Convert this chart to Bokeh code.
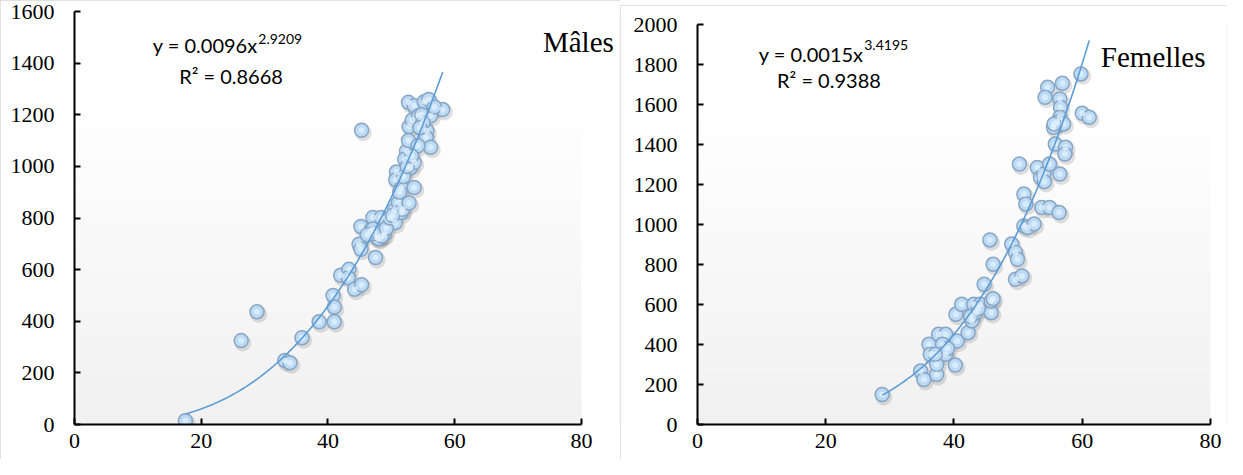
import numpy as np
from bokeh.plotting import figure
from bokeh.layouts import row, column
from bokeh.models import Label, BoxAnnotation, Spacer, FixedTicker
from bokeh.transform import dodge
from bokeh.embed import file_html
from bokeh.resources import INLINE

# ---- data (length, weight) ----
male_length = [17.5, 26.3, 28.8, 33.2, 34.0, 35.9, 38.6, 40.8, 41.0, 41.0, 42.0, 43.3,
               43.2, 44.2, 45.3, 45.3, 45.2, 44.9, 45.2, 46.7, 47.1, 47.5, 47.8, 48.4,
               48.9, 47.1, 50.6, 50.5, 50.8, 50.7, 51.6, 51.6, 51.1, 51.8, 52.8, 53.6,
               53.0, 53.6, 52.4, 52.7, 52.8, 53.3, 52.7, 53.6, 55.2, 55.9, 55.6, 55.5,
               56.2, 56.2, 58.1, 54.2, 54.3, 52.1, 48.0, 48.5, 47.3, 46.2, 49.2, 49.8,
               50.2, 51.3, 51.9, 52.5, 53.2, 54.8, 56.8, 55.0, 54.5]
male_weight = [15, 325, 437, 248, 239, 336, 398, 500, 455, 398, 578, 601,
               569, 524, 541, 1140, 767, 698, 679, 750, 802, 647, 724, 802,
               737, 757, 782, 831, 978, 948, 918, 821, 860, 834, 858, 918,
               995, 1015, 1060, 1100, 1154, 1180, 1248, 1235, 1250, 1259, 1138, 1112,
               1074, 1196, 1220, 1080, 1196, 1028, 720, 730, 740, 735, 760, 800,
               810, 900, 960, 1000, 1040, 1200, 1230, 1170, 1150]

female_length = [28.8, 34.8, 35.3, 36.1, 36.3, 37.3, 37.3, 37.6, 38.7, 38.2, 38.7, 37.1,
                 40.2, 40.5, 40.3, 41.2, 42.2, 42.8, 43.4, 43.1, 44.1, 44.7, 45.8, 45.8,
                 46.1, 45.6, 46.1, 49.0, 49.6, 49.9, 49.6, 50.6, 50.2, 50.9, 51.2, 50.9,
                 51.5, 52.5, 53.0, 53.5, 54.0, 54.1, 54.9, 53.7, 54.9, 56.4, 56.5, 54.6,
                 54.2, 56.9, 56.5, 56.6, 56.5, 55.5, 56.1, 57.1, 55.6, 55.8, 57.4, 57.3,
                 59.8, 60.0, 61.1, 42.6, 39.0, 43.8]
female_weight = [150, 267, 225, 401, 351, 250, 300, 451, 451, 401, 351, 351,
                 297, 417, 551, 601, 459, 518, 559, 601, 601, 701, 559, 618,
                 629, 923, 801, 902, 860, 826, 726, 743, 1302, 1152, 1102, 993,
                 985, 1002, 1285, 1235, 1252, 1214, 1302, 1085, 1085, 1060, 1252, 1686,
                 1636, 1706, 1628, 1586, 1536, 1486, 1511, 1503, 1503, 1402, 1386, 1352,
                 1753, 1556, 1536, 540, 380, 580]

x_ticks = [0, 20, 40, 60, 80]
male_y_ticks = list(range(0, 1601, 200))
female_y_ticks = list(range(0, 2001, 200))

male_fit = (0.0096, 2.9209, 0.8668)
female_fit = (0.0015, 3.4195, 0.9388)

SERIF = "Liberation Serif"
SANS = "Lato"


def make_panel(xs, ys, fit, y_ticks, ymax, xend, width, height, borders, title, title_pos,
               eq_pos, r2_pos, sup_pos):
    p = figure(width=width, height=height, x_range=(0, xend), y_range=(0, ymax),
               output_backend="svg", toolbar_location=None,
               min_border_left=borders[0], min_border_right=borders[1],
               min_border_top=borders[2], min_border_bottom=borders[3])
    p.styles = {"outline": "1px solid #d9d9d9", "outline-offset": "-1px"}
    p.outline_line_color = None
    p.grid.visible = False
    p.background_fill_color = "white"
    p.border_fill_color = "white"

    # soft vertical gradient in plot area (x 0..80)
    n = 30
    edges = np.linspace(0, ymax * 0.82, n + 1)
    for i in range(n):
        t = i / (n - 1)
        c = int(round(241 + (255 - 241) * t))
        p.add_layout(BoxAnnotation(left=0, right=80, bottom=edges[i], top=edges[i + 1] + 1,
                                   fill_color=(c, c, c), fill_alpha=1.0,
                                   line_color=None, level="underlay"))

    for ax in list(p.xaxis) + list(p.yaxis):
        ax.axis_line_color = "black"
        ax.axis_line_width = 2
        ax.major_tick_line_color = "black"
        ax.major_tick_line_width = 2
        ax.major_tick_in = 6
        ax.major_tick_out = 0
        ax.minor_tick_line_color = None
        ax.major_label_text_font_size = "22px"
        ax.major_label_text_color = "black"
    p.xaxis[0].major_label_text_font = "serif"
    p.yaxis[0].major_label_text_font = "Times New Roman"
    p.xaxis[0].ticker = FixedTicker(ticks=x_ticks)
    p.yaxis[0].ticker = FixedTicker(ticks=y_ticks)
    p.xaxis[0].bounds = (0, 80)
    p.xaxis[0].major_label_standoff = 9
    p.yaxis[0].major_label_standoff = 20

    src = dict(x=xs, y=ys)
    p.scatter(x=dodge("x", 0.25, range=p.x_range), y=dodge("y", -ymax * 0.006, range=p.y_range),
              source=src, size=17, fill_color="#555555", fill_alpha=0.18, line_color=None)
    p.scatter(x="x", y="y", source=src, size=14, fill_color="#bcdaf4",
              line_color="#88a6c4", line_width=1.5)
    p.scatter(x="x", y="y", source=src, size=6, fill_color="#e6f3fd", fill_alpha=0.7,
              line_color=None)

    a, b, r2 = fit
    xf = np.linspace(min(xs), max(xs), 200)
    p.line(xf, a * xf ** b, line_color="#5b9bd5", line_width=1.6)

    p.add_layout(Label(x=eq_pos[0], y=eq_pos[1], text=f"y = {a:.4f}x",
                       text_font=SANS, text_font_size="20px", text_align="right",
                       text_baseline="alphabetic", text_color="black"))
    p.add_layout(Label(x=sup_pos[0], y=sup_pos[1], text=f"{b:.4f}",
                       text_font=SANS, text_font_size="14px", text_align="left",
                       text_baseline="alphabetic", text_color="black"))
    p.add_layout(Label(x=r2_pos[0], y=r2_pos[1], text=f"R² = {r2:.4f}",
                       text_font=SANS, text_font_size="20px", text_align="center",
                       text_baseline="alphabetic", text_color="black"))
    p.add_layout(Label(x=title_pos[0], y=title_pos[1], text=title[0],
                       text_font=SERIF, text_font_size="29px", text_align=title[1],
                       text_baseline="alphabetic", text_color="black"))
    return p


left = make_panel(male_length, male_weight, male_fit, male_y_ticks, 1600, 86.0,
                  620, 459, (74, 1, 11, 35), ("Mâles", "right"), (85.1, 1480),
                  (28.9, 1469), (24.7, 1352), (29.0, 1492))
right = make_panel(female_length, female_weight, female_fit, female_y_ticks, 2000, 82.5,
                   607, 454, (77, 1, 19, 35), ("Femelles", "left"), (62.9, 1836),
                   (25.9, 1851), (20.5, 1721), (26.0, 1896))

layout = row(left, column(Spacer(height=5), right))

open("out.html", "w").write(file_html(layout, INLINE))
